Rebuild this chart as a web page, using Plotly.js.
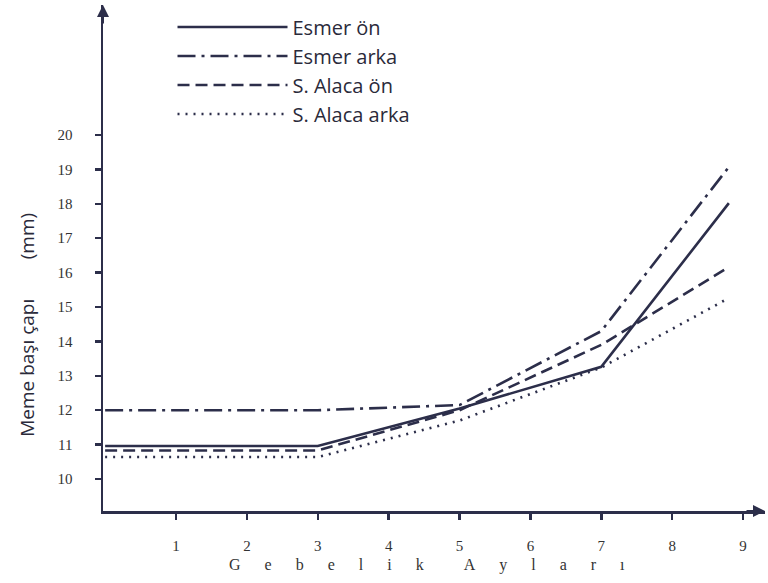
<!DOCTYPE html>
<html>
<head>
<meta charset="utf-8">
<script src="https://cdn.plot.ly/plotly-3.0.1.min.js"></script>
<style>html,body{margin:0;padding:0;background:#fff;}#chart{width:768px;height:583px;}</style>
</head>
<body>
<div id="chart"></div>
<script>
// Data
const months = [0, 3, 5, 7, 8.8];
const esmerOn = [10.96, 10.96, 12.05, 13.26, 18.02];
const esmerArka = [12.0, 12.0, 12.15, 14.3, 19.07];
const alacaOn = [10.83, 10.83, 12.0, 13.9, 16.16];
const alacaArka = [10.64, 10.64, 11.7, 13.24, 15.26];
const seriesNames = ['Esmer ön', 'Esmer arka', 'S. Alaca ön', 'S. Alaca arka'];
const xTicks = [1, 2, 3, 4, 5, 6, 7, 8, 9];
const yTicks = [10, 11, 12, 13, 14, 15, 16, 17, 18, 19, 20];
const xTitleWords = ['Gebelik', 'Ayları'];
const yTitleParts = ['Meme başı çapı', '(mm)'];

const letterGap = '\u2003\u2002';
const wordGap = '\u2003\u2003\u2002';
const xTitle = xTitleWords.map(w => w.split('').join(letterGap)).join(wordGap);
const yTitle = yTitleParts.join('\u00A0'.repeat(8));

const ink = '#2c2e4a';
const dashes = ['solid', '18px,6px,3px,6px', '12px,6px', '2px,6px'];
const values = [esmerOn, esmerArka, alacaOn, alacaArka];

const traces = values.map((v, i) => ({
  x: months, y: v, type: 'scatter', mode: 'lines', name: seriesNames[i],
  line: {color: ink, width: 2.6, dash: dashes[i]}
}));

const layout = {
  width: 768, height: 583,
  margin: {l: 103, r: 3, t: 5, b: 72},
  paper_bgcolor: '#fff', plot_bgcolor: '#fff',
  showlegend: true,
  legend: {
    x: 0.105, y: 0.995, xanchor: 'left', yanchor: 'top',
    bgcolor: 'rgba(0,0,0,0)', itemwidth: 110, tracegroupgap: 0,
    font: {family: 'Open Sans, sans-serif', size: 20, color: '#2a2a3a'}
  },
  xaxis: {
    range: [-0.03, 9.31], tickvals: xTicks, ticktext: xTicks.map(String),
    showline: true, linecolor: ink, linewidth: 2.5, showgrid: false, zeroline: false,
    ticks: 'outside', ticklen: 6, tickwidth: 2.5, tickcolor: ink, ticklabelstandoff: 13,
    tickfont: {family: 'Liberation Serif, serif', size: 15, color: '#333'}
  },
  yaxis: {
    range: [9.07, 23.78], tickvals: yTicks, ticktext: yTicks.map(String),
    showline: true, linecolor: ink, linewidth: 2.5, showgrid: false, zeroline: false,
    ticks: 'outside', ticklen: 6, tickwidth: 2.5, tickcolor: ink, ticklabelstandoff: 19,
    tickfont: {family: 'Liberation Serif, serif', size: 15, color: '#333'}
  },
  annotations: [
    {xref: 'paper', yref: 'paper', x: 0, y: 1, ax: 0, ay: 20, text: '', showarrow: true,
     arrowhead: 2, arrowsize: 1.2, arrowwidth: 2, arrowcolor: ink},
    {xref: 'paper', yref: 'paper', x: 1, y: 0, ax: -20, ay: 0, text: '', showarrow: true,
     arrowhead: 2, arrowsize: 1.2, arrowwidth: 2, arrowcolor: ink},
    {xref: 'x', yref: 'paper', x: 4.54, y: -0.107, yanchor: 'middle', showarrow: false, text: xTitle,
     font: {family: 'Liberation Serif, serif', size: 16, color: '#333'}},
    {xref: 'paper', yref: 'y', x: -0.115, y: 14.48, xanchor: 'center', showarrow: false, textangle: -90,
     text: yTitle, font: {family: 'Open Sans, sans-serif', size: 19, color: '#2a2a3a'}}
  ]
};

Plotly.newPlot('chart', traces, layout, {staticPlot: true, displayModeBar: false});
</script>
</body>
</html>
